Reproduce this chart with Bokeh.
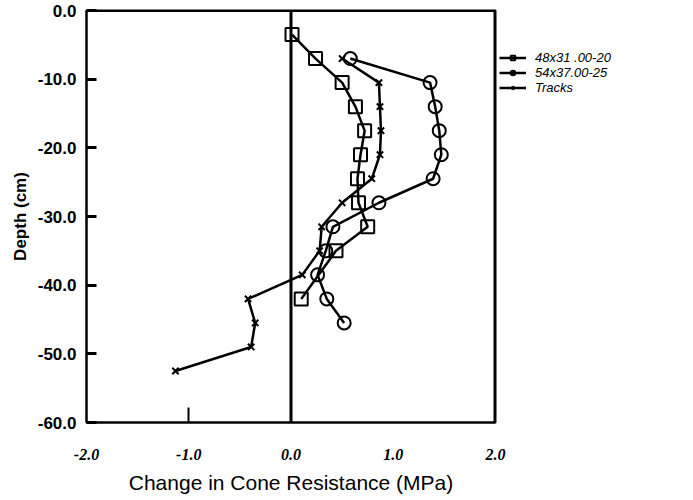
from bokeh.plotting import figure
from bokeh.models import Range1d, FixedTicker, PrintfTickFormatter, Span, Legend, LegendItem
from bokeh.embed import file_html
from bokeh.resources import INLINE

# ---- data ----
sq_depth = [-3.5, -7.0, -10.5, -14.0, -17.5, -21.0, -24.5, -28.0, -31.5, -35.0, -42.0]
sq_change = [0.01, 0.24, 0.50, 0.63, 0.72, 0.68, 0.65, 0.66, 0.75, 0.44, 0.10]

ci_depth = [-7.0, -10.5, -14.0, -17.5, -21.0, -24.5, -28.0, -31.5, -35.0, -38.5, -42.0, -45.5]
ci_change = [0.58, 1.36, 1.41, 1.45, 1.47, 1.39, 0.86, 0.41, 0.34, 0.26, 0.35, 0.52]

tr_depth = [-7.0, -10.5, -14.0, -17.5, -21.0, -24.5, -28.0, -31.5, -35.0, -38.5, -42.0, -45.5, -49.0, -52.5]
tr_change = [0.50, 0.86, 0.87, 0.88, 0.87, 0.79, 0.50, 0.30, 0.28, 0.11, -0.42, -0.35, -0.39, -1.13]

series_labels = ["48x31 .00-20", "54x37.00-25", "Tracks"]

y_ticks = [0, -10, -20, -30, -40, -50, -60]
x_tick_values = [-2.0, -1.0, 0.0, 1.0, 2.0]
x_tick_labels = {-2.0: "-2.0", -1.0: "-1.0", 0.0: "0.0", 1.0: "1.0", 2.0: "2.0"}

p = figure(frame_width=409, frame_height=412, output_backend="svg", toolbar_location=None,
           x_range=Range1d(-2, 2), y_range=Range1d(-60, 0),
           min_border_left=86, min_border_right=170, min_border_top=10, min_border_bottom=62)
p.grid.visible = False
p.outline_line_color = "black"
p.outline_line_width = 2
p.background_fill_color = "white"
p.border_fill_color = "white"

# y axis
p.yaxis.ticker = FixedTicker(ticks=y_ticks)
p.yaxis.formatter = PrintfTickFormatter(format="%.1f")
p.yaxis.major_tick_in = 10
p.yaxis.major_tick_out = 0
p.yaxis.major_tick_line_width = 3
p.yaxis.minor_tick_line_color = None
p.yaxis.axis_line_width = 2
p.yaxis.major_label_standoff = 10
p.yaxis.major_label_text_font = "Liberation Sans"
p.yaxis.major_label_text_font_style = "bold"
p.yaxis.major_label_text_font_size = "17px"
p.yaxis.major_label_text_color = "black"
p.yaxis.axis_label = "Depth (cm)"
p.yaxis.axis_label_text_font = "Liberation Sans"
p.yaxis.axis_label_text_font_style = "bold"
p.yaxis.axis_label_text_font_size = "17px"
p.yaxis.axis_label_text_color = "black"
p.yaxis.axis_label_standoff = 5

# x axis
p.xaxis.ticker = FixedTicker(ticks=x_tick_values, minor_ticks=[-1.0])
p.xaxis.major_label_overrides = x_tick_labels
p.xaxis.major_tick_in = 0
p.xaxis.major_tick_out = 0
p.xaxis.minor_tick_in = 15
p.xaxis.minor_tick_out = 0
p.xaxis.minor_tick_line_width = 2
p.xaxis.minor_tick_line_color = "black"
p.xaxis.axis_line_width = 2
p.xaxis.major_label_standoff = 26
p.xaxis.major_label_text_font = "Liberation Serif"
p.xaxis.major_label_text_font_style = "bold italic"
p.xaxis.major_label_text_font_size = "16px"
p.xaxis.major_label_text_color = "black"
p.xaxis.axis_label = "Change in Cone Resistance (MPa)"
p.xaxis.axis_label_text_font = "Liberation Sans"
p.xaxis.axis_label_text_font_style = "normal"
p.xaxis.axis_label_text_font_size = "21px"
p.xaxis.axis_label_text_color = "black"
p.xaxis.axis_label_standoff = 8

# frame accents
p.add_layout(Span(location=0, dimension="height", line_color="black", line_width=3))
p.add_layout(Span(location=2, dimension="height", line_color="black", line_width=4))
p.add_layout(Span(location=0, dimension="width", line_color="black", line_width=3))

# series
r1l = p.line(sq_change, sq_depth, line_color="black", line_width=2.5)
r1s = p.scatter(sq_change, sq_depth, marker="square", size=13, fill_color=None,
                line_color="black", line_width=2)
r2l = p.line(ci_change, ci_depth, line_color="black", line_width=2.5)
r2s = p.scatter(ci_change, ci_depth, marker="circle", size=13, fill_color=None,
                line_color="black", line_width=2)
r3l = p.line(tr_change, tr_depth, line_color="black", line_width=2.5)
r3s = p.scatter(tr_change, tr_depth, marker="x", size=9, line_color="black", line_width=2)

legend = Legend(items=[LegendItem(label=series_labels[0], renderers=[r1l, r1s]),
                       LegendItem(label=series_labels[1], renderers=[r2l, r2s]),
                       LegendItem(label=series_labels[2], renderers=[r3l, r3s])],
                location="top_left", padding=0, spacing=0, margin=4,
                title=" ", title_text_font_size="28px", title_standoff=4,
                glyph_width=27, glyph_height=11, label_height=11, label_standoff=9,
                label_text_font="Liberation Sans", label_text_font_style="italic",
                label_text_font_size="13px", label_text_color="black",
                border_line_color=None, background_fill_alpha=0)
p.add_layout(legend, "right")

open("out.html", "w").write(file_html(p, INLINE))
